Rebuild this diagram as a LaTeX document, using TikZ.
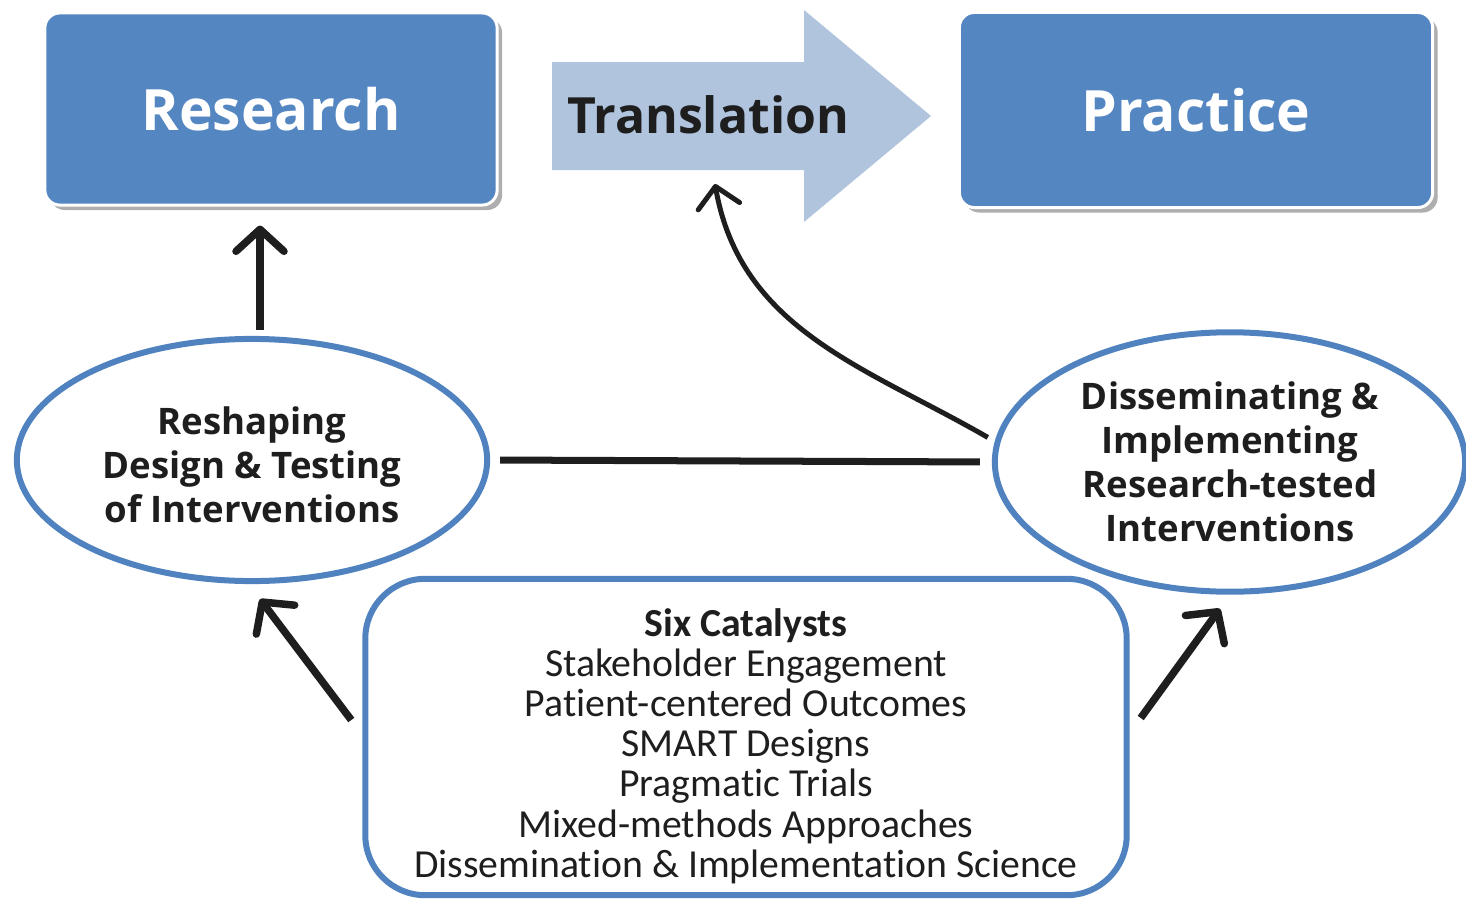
\documentclass[tikz,border=0pt]{standalone}
\usepackage{fontspec}
\setmainfont{Open Sans}
\newfontfamily\catfont{Carlito}[Ligatures=NoCommon]
\usetikzlibrary{shapes.geometric,arrows.meta,shadows,calc}
\definecolor{boxblue}{RGB}{84,134,194}
\definecolor{ringblue}{RGB}{80,130,192}
\definecolor{paleblue}{RGB}{176,196,222}
\definecolor{inkblack}{RGB}{30,30,30}
\tikzset{
  bigbox/.style={rectangle, rounded corners=0.15cm, fill=boxblue, draw=white,
    line width=0.03cm, minimum width=4.52cm, minimum height=1.92cm, text=white,
    font=\fontsize{16.2}{18}\selectfont\bfseries,
    drop shadow={shadow xshift=0.05cm, shadow yshift=-0.05cm, opacity=0.45, fill=black!70}},
  ring/.style={ellipse, draw=ringblue, line width=0.06cm, minimum width=4.7cm,
    minimum height=2.42cm, align=center, text=inkblack,
    font=\fontsize{10.4}{12.5}\selectfont\bfseries},
  catbox/.style={rectangle, rounded corners=0.6cm, draw=ringblue, line width=0.06cm,
    minimum width=7.61cm, minimum height=3.13cm, align=center, text=inkblack,
    font=\catfont\fontsize{11.3}{11.4}\selectfont},
  fatarrow/.style={draw=inkblack, line width=0.075cm,
    -{Straight Barb[length=0.22cm, width=0.48cm, round]}},
  thinarrow/.style={draw=inkblack, line width=0.05cm,
    -{Straight Barb[length=0.2cm, width=0.42cm, round]}},
  bar/.style={draw=inkblack, line width=0.07cm}
}
\begin{document}
\begin{tikzpicture}[x=0.01cm, y=-0.01cm]
  \useasboundingbox (0,0) rectangle (1466,900);

  % top row
  \node[bigbox] (research) at (271,109) {Research};
  \node[bigbox, minimum width=4.73cm, minimum height=1.95cm] (practice) at (1196,110) {Practice};
  \fill[paleblue] (552,62) -- (804,62) -- (804,10) -- (931,116) -- (804,222)
    -- (804,170) -- (552,170) -- cycle;
  \node[font=\fontsize{14.2}{16}\selectfont\bfseries, text=inkblack] (trans) at (708,115) {Translation};
  \coordinate (transfoot) at (715,184);

  % middle row
  \node[ring] (reshape) at (252,460) {\rule{0pt}{0.37cm}Reshaping\\Design \& Testing\\of Interventions};
  \node[ring] (dissem) at (1230,462) {Disseminating \&\\Implementing\\Research-tested\\Interventions};

  % catalysts
  \node[catbox] (catalyst) at (746,737) {\rule{0pt}{0.46cm}\textbf{Six Catalysts}\\Stakeholder Engagement\\
    Patient-centered Outcomes\\SMART Designs\\Pragmatic Trials\\
    Mixed-methods Approaches\\Dissemination \& Implementation Science};

  \draw[fatarrow] ($(reshape.north)+(8,-6)$) -- ($(research.south)+(-11,19)$);
  \draw[bar, shorten <=0.1cm, shorten >=0.12cm] (reshape.east) -- (dissem.west);
  \draw[thinarrow, shorten <=0.08cm] (dissem.175) to[out=150, in=-80] (transfoot);
  \draw[fatarrow] ($(catalyst.west)+(-11,-17)$) -- ($(reshape.south)+(8,15)$);
  \draw[fatarrow] ($(catalyst.east)+(11,-19)$) -- ($(dissem.south)+(-10,14)$);
\end{tikzpicture}
\end{document}
